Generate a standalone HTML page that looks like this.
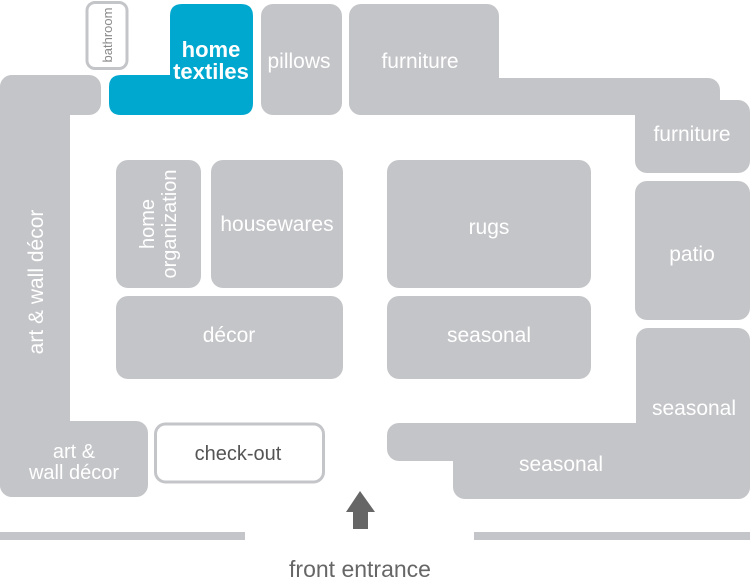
<!DOCTYPE html>
<html><head><meta charset="utf-8"><style>
html,body{margin:0;padding:0;background:#fff;}
svg{display:block;}
text{font-family:"Liberation Sans",sans-serif;fill:#fff;}
</style></head><body>
<svg width="750" height="586" viewBox="0 0 750 586" xmlns="http://www.w3.org/2000/svg">
<g fill="#c4c5c8">
  <!-- left L -->
  <rect x="0" y="75" width="101" height="40" rx="12"/>
  <rect x="0" y="75" width="70" height="422" rx="12"/>
  <rect x="0" y="421" width="148" height="76" rx="12"/>
  <!-- pillows -->
  <rect x="261" y="4" width="81" height="111" rx="12"/>
  <!-- furniture top -->
  <rect x="349" y="4" width="150" height="111" rx="12"/>
  <rect x="349" y="78" width="371" height="37" rx="12"/>
  <rect x="400" y="78" width="80" height="37"/>
  <!-- furniture right -->
  <rect x="635" y="100" width="115" height="73" rx="12"/>
  <!-- patio -->
  <rect x="635" y="181" width="115" height="139" rx="12"/>
  <!-- seasonal right -->
  <rect x="636" y="328" width="114" height="171" rx="12"/>
  <rect x="387" y="423" width="363" height="38" rx="12"/>
  <rect x="453" y="423" width="297" height="76" rx="12"/>
  <!-- islands -->
  <rect x="116" y="160" width="85" height="128" rx="12"/>
  <rect x="211" y="160" width="132" height="128" rx="12"/>
  <rect x="116" y="296" width="227" height="83" rx="12"/>
  <rect x="387" y="160" width="204" height="128" rx="12"/>
  <rect x="387" y="296" width="204" height="83" rx="12"/>
  <!-- floor lines -->
  <rect x="0" y="532" width="245" height="8"/>
  <rect x="474" y="532" width="276" height="8"/>
</g>
<!-- home textiles -->
<path d="M182 4 H241 Q253 4 253 16 V103 Q253 115 241 115 H121 Q109 115 109 103 V87 Q109 75 121 75 H170 V16 Q170 4 182 4 Z" fill="#00a8cf"/>
<!-- bathroom -->
<rect x="87" y="2.5" width="40" height="66" rx="8" fill="#fff" stroke="#c4c5c8" stroke-width="3"/>
<!-- check-out -->
<rect x="155.5" y="424" width="168" height="58" rx="10" fill="#fff" stroke="#c4c5c8" stroke-width="3"/>
<!-- arrow -->
<polygon points="360,491 375,512 368,512 368,529 353,529 353,512 346,512" fill="#666"/>

<text x="107" y="35" font-size="13" fill="#888" style="fill:#8a8a8a" text-anchor="middle" transform="rotate(-90 107 35)" dy="5">bathroom</text>
<text x="211" y="57" font-size="22" font-weight="bold" text-anchor="middle">home</text>
<text x="211" y="79" font-size="22" font-weight="bold" text-anchor="middle">textiles</text>
<text x="299" y="68" font-size="21" text-anchor="middle">pillows</text>
<text x="420" y="68" font-size="21" text-anchor="middle">furniture</text>
<text x="692" y="141" font-size="21" text-anchor="middle">furniture</text>
<text x="692" y="261" font-size="21" text-anchor="middle">patio</text>
<text x="694" y="415" font-size="21" text-anchor="middle">seasonal</text>
<text x="561" y="471" font-size="21" text-anchor="middle">seasonal</text>
<text x="277" y="231" font-size="21" text-anchor="middle">housewares</text>
<text x="229" y="342" font-size="21" text-anchor="middle">décor</text>
<text x="489" y="234" font-size="21" text-anchor="middle">rugs</text>
<text x="489" y="342" font-size="21" text-anchor="middle">seasonal</text>
<g transform="translate(158 224) rotate(-90)">
  <text x="0" y="-4" font-size="20" text-anchor="middle">home</text>
  <text x="0" y="18" font-size="20" text-anchor="middle">organization</text>
</g>
<text transform="translate(43 282) rotate(-90)" font-size="21" text-anchor="middle">art &amp; wall décor</text>
<text x="74" y="458" font-size="20" text-anchor="middle">art &amp;</text>
<text x="74" y="479" font-size="20" text-anchor="middle">wall décor</text>
<text x="238" y="460" font-size="20" text-anchor="middle" style="fill:#555">check-out</text>
<text x="360" y="577" font-size="23" text-anchor="middle" style="fill:#666">front entrance</text>
</svg>
</body></html>
